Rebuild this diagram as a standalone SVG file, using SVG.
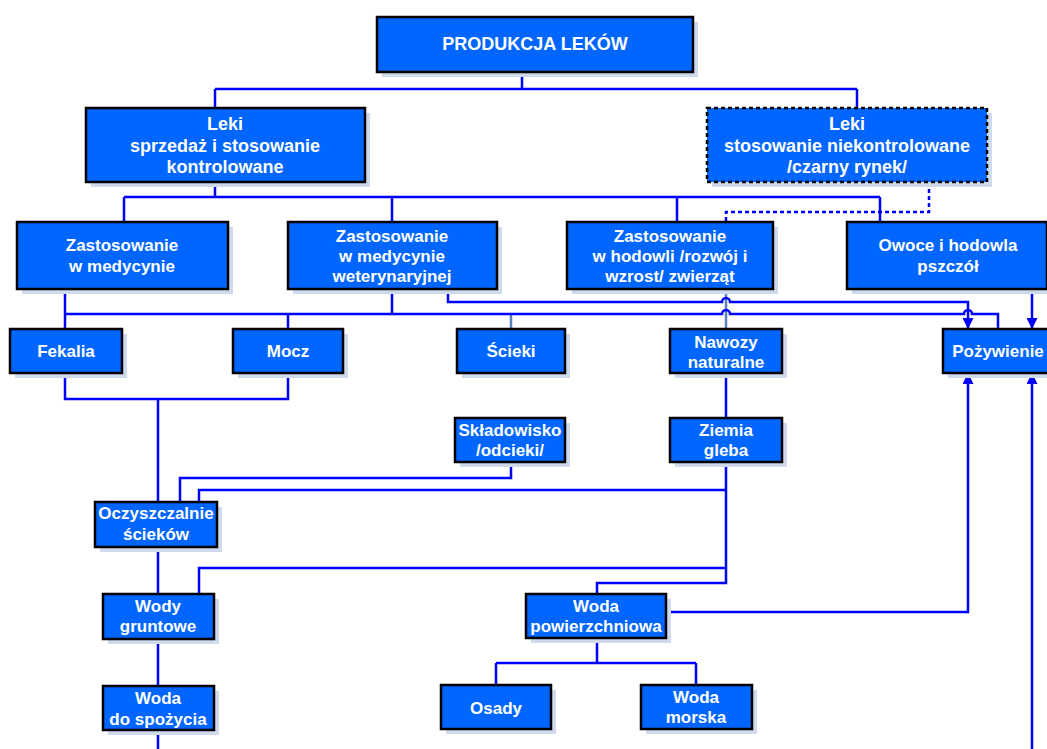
<svg xmlns="http://www.w3.org/2000/svg" width="1047" height="749" viewBox="0 0 1047 749">
<defs>
<marker id="arr" viewBox="0 0 10 10" refX="10" refY="5" markerWidth="11" markerHeight="11" markerUnits="userSpaceOnUse" orient="auto">
<path d="M0,0 L10,5 L0,10 z" fill="#0000ff"/>
</marker>
<style>
.sh{fill:#cfdbec}
.bx{fill:#0066ff;stroke:#000;stroke-width:2.5}
.dbx{fill:#0066ff;stroke:#000;stroke-width:2.5;stroke-dasharray:4 3}
.t{font-family:"Liberation Sans",Arial,sans-serif;font-weight:bold;font-size:17px;fill:#fff;text-anchor:middle}
.t18{font-size:18px}
.c{fill:none;stroke:#0000ff;stroke-width:2.5}
.s{fill:none;stroke:#5b82c0;stroke-width:2.5}
.d{fill:none;stroke:#0000ff;stroke-width:2.5;stroke-dasharray:4 3}
</style>
</defs>
<rect width="1047" height="749" fill="#fff"/>
<g id="connectors">
<path class="c" d="M522,72 V89 M215,89 H857 M215,89 V108 M857,89 V108"/>
<path class="c" d="M215,182 V197 M124,197 H880 M124,197 V222 M392,197 V222 M677,197 V222 M880,197 V222"/>
<path class="d" d="M929,182 V212 H726 V222"/>
<path class="c" d="M65,289 V329 M392,289 V314 M288,314 V329"/>
<path class="s" d="M511,314 V329 M726,289 V329"/>
<path class="c" d="M65,314 H722 A4,4 0 0 1 730,314 H964 A4,4 0 0 1 972,314 H998 V329"/>
<path class="c" d="M448,289 V302 H722 A4,4 0 0 1 730,302 H968 V329" marker-end="url(#arr)"/>
<path class="c" d="M1032,289 V329" marker-end="url(#arr)"/>
<path class="c" d="M65,373 V399 H288 V373 M158,399 V502"/>
<path class="c" d="M726,373 V418"/>
<path class="c" d="M511,462 V478 H180 V502"/>
<path class="c" d="M726,462 V583 H597 V594 M199,502 V490 H726 M199,594 V568 H726"/>
<path class="c" d="M158,547 V594 M158,639 V686 M158,730 V749"/>
<path class="c" d="M660,612 H968 V373" marker-end="url(#arr)"/>
<path class="c" d="M1032,749 V373" marker-end="url(#arr)"/>
<path class="c" d="M597,638 V663 M496,663 H696 M496,663 V685 M696,663 V685"/>
</g>
<g id="n1"><rect class="sh" x="382" y="22" width="316" height="55"/><rect class="bx" x="377" y="17" width="316" height="55"/><text class="t t18" x="535" y="50">PRODUKCJA LEKÓW</text></g>
<g id="n2"><rect class="sh" x="91" y="113" width="279" height="74"/><rect class="bx" x="86" y="108" width="279" height="74"/><text class="t t18" x="225"><tspan x="225" y="130">Leki</tspan><tspan x="225" y="152">sprzedaż i stosowanie</tspan><tspan x="225" y="173">kontrolowane</tspan></text></g>
<g id="n3"><rect class="sh" x="712" y="113" width="280" height="74"/><rect class="dbx" x="707" y="108" width="280" height="74"/><text class="t t18" x="847"><tspan x="847" y="130">Leki</tspan><tspan x="847" y="152">stosowanie niekontrolowane</tspan><tspan x="847" y="173">/czarny rynek/</tspan></text></g>
<g id="n4"><rect class="sh" x="22" y="227" width="211" height="67"/><rect class="bx" x="17" y="222" width="211" height="67"/><text class="t" x="122"><tspan x="122" y="251">Zastosowanie</tspan><tspan x="122" y="272">w medycynie</tspan></text></g>
<g id="n5"><rect class="sh" x="293" y="227" width="209" height="67"/><rect class="bx" x="288" y="222" width="209" height="67"/><text class="t" x="392"><tspan x="392" y="242">Zastosowanie</tspan><tspan x="392" y="262">w medycynie</tspan><tspan x="392" y="282">weterynaryjnej</tspan></text></g>
<g id="n6"><rect class="sh" x="572" y="227" width="206" height="67"/><rect class="bx" x="567" y="222" width="206" height="67"/><text class="t" x="670"><tspan x="670" y="242">Zastosowanie</tspan><tspan x="670" y="262">w hodowli /rozwój i</tspan><tspan x="670" y="282">wzrost/ zwierząt</tspan></text></g>
<g id="n7"><rect class="sh" x="852" y="227" width="200" height="67"/><rect class="bx" x="847" y="222" width="200" height="67"/><text class="t" x="948"><tspan x="948" y="251">Owoce i hodowla</tspan><tspan x="948" y="272">pszczół</tspan></text></g>
<g id="n8"><rect class="sh" x="15" y="334" width="112" height="44"/><rect class="bx" x="10" y="329" width="112" height="44"/><text class="t" x="66" y="357">Fekalia</text></g>
<g id="n9"><rect class="sh" x="238" y="334" width="110" height="44"/><rect class="bx" x="233" y="329" width="110" height="44"/><text class="t" x="288" y="357">Mocz</text></g>
<g id="n10"><rect class="sh" x="462" y="334" width="108" height="44"/><rect class="bx" x="457" y="329" width="108" height="44"/><text class="t" x="511" y="357">Ścieki</text></g>
<g id="n11"><rect class="sh" x="675" y="334" width="112" height="44"/><rect class="bx" x="670" y="329" width="112" height="44"/><text class="t" x="726"><tspan x="726" y="348">Nawozy</tspan><tspan x="726" y="368">naturalne</tspan></text></g>
<g id="n12"><rect class="sh" x="948" y="334" width="112" height="44"/><rect class="bx" x="943" y="329" width="112" height="44"/><text class="t" x="998" y="357">Pożywienie</text></g>
<g id="n13"><rect class="sh" x="460" y="423" width="110" height="44"/><rect class="bx" x="455" y="418" width="110" height="44"/><text class="t" x="510"><tspan x="510" y="436">Składowisko</tspan><tspan x="510" y="456">/odcieki/</tspan></text></g>
<g id="n14"><rect class="sh" x="675" y="423" width="112" height="44"/><rect class="bx" x="670" y="418" width="112" height="44"/><text class="t" x="726"><tspan x="726" y="436">Ziemia</tspan><tspan x="726" y="456">gleba</tspan></text></g>
<g id="n15"><rect class="sh" x="100" y="507" width="122" height="45"/><rect class="bx" x="95" y="502" width="122" height="45"/><text class="t" x="156"><tspan x="156" y="519">Oczyszczalnie</tspan><tspan x="156" y="540">ścieków</tspan></text></g>
<g id="n16"><rect class="sh" x="108" y="599" width="111" height="45"/><rect class="bx" x="103" y="594" width="111" height="45"/><text class="t" x="158"><tspan x="158" y="612">Wody</tspan><tspan x="158" y="632">gruntowe</tspan></text></g>
<g id="n17"><rect class="sh" x="531" y="599" width="140" height="44"/><rect class="bx" x="526" y="594" width="140" height="44"/><text class="t" x="596"><tspan x="596" y="612">Woda</tspan><tspan x="596" y="632">powierzchniowa</tspan></text></g>
<g id="n18"><rect class="sh" x="108" y="691" width="111" height="44"/><rect class="bx" x="103" y="686" width="111" height="44"/><text class="t" x="158"><tspan x="158" y="704">Woda</tspan><tspan x="158" y="725">do spożycia</tspan></text></g>
<g id="n19"><rect class="sh" x="446" y="690" width="110" height="44"/><rect class="bx" x="441" y="685" width="110" height="44"/><text class="t" x="496" y="714">Osady</text></g>
<g id="n20"><rect class="sh" x="646" y="690" width="111" height="44"/><rect class="bx" x="641" y="685" width="111" height="44"/><text class="t" x="696"><tspan x="696" y="703">Woda</tspan><tspan x="696" y="723">morska</tspan></text></g>
</svg>
